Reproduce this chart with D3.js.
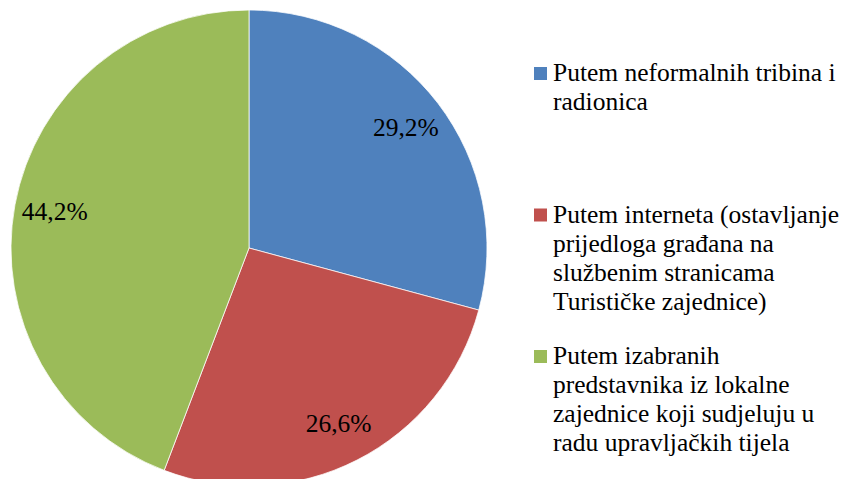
<!DOCTYPE html>
<html>
<head>
<meta charset="utf-8">
<script src="https://cdn.jsdelivr.net/npm/d3@7"></script>
</head>
<body style="margin:0">
<script>
var categories = [
  "Putem neformalnih tribina i radionica",
  "Putem interneta (ostavljanje prijedloga gra\u0111ana na slu\u017Ebenim stranicama Turisti\u010Dke zajednice)",
  "Putem izabranih predstavnika iz lokalne zajednice koji sudjeluju u radu upravlja\u010Dkih tijela"
];
var values = [29.2, 26.6, 44.2];
var labels = ["29,2%", "26,6%", "44,2%"];

var width = 854;
var height = 479;
var radius = 238;
var cx = 249, cy = 248;
var fontSize = 25.5;
var font = "'Times New Roman'";

var color = d3.scaleOrdinal()
  .domain(categories)
  .range(["#4F81BD", "#C0504D", "#9BBB59"]);

var svg = d3.select("body")
  .append("svg")
  .attr("width", width)
  .attr("height", height);

var g = svg.append("g")
  .attr("transform", "translate(" + cx + "," + cy + ")");

var pie = d3.pie()
  .value(function(d) { return d; })
  .sort(null);

var arc = d3.arc()
  .innerRadius(0)
  .outerRadius(radius);

var labelArc = d3.arc()
  .innerRadius(radius * 0.83)
  .outerRadius(radius * 0.83);

var arcs = pie(values);

g.selectAll("path")
  .data(arcs)
  .enter()
  .append("path")
  .attr("d", arc)
  .attr("fill", function(d, i) { return color(categories[i]); })
  .attr("stroke", "#fff")
  .attr("stroke-width", 0.75);

g.selectAll("text.pct")
  .data(arcs)
  .enter()
  .append("text")
  .attr("class", "pct")
  .attr("x", function(d) { return labelArc.centroid(d)[0]; })
  .attr("y", function(d) { return labelArc.centroid(d)[1] + 8; })
  .attr("text-anchor", "middle")
  .attr("font-family", font)
  .attr("font-size", fontSize)
  .text(function(d, i) { return labels[i]; });

// legend
var legendX = 534;
var textX = 553;
var maxW = 298;
var lineH = 29;

var ly = d3.scalePoint()
  .domain(categories)
  .range([81, 364]);

categories.forEach(function(c) {
  var y = ly(c);
  svg.append("rect")
    .attr("x", legendX)
    .attr("y", y - 14)
    .attr("width", 13)
    .attr("height", 13)
    .attr("fill", color(c));

  var words = c.split(" ");
  var line = [];
  var n = 0;
  var t = svg.append("text")
    .attr("x", textX)
    .attr("y", y)
    .attr("font-family", font)
    .attr("font-size", fontSize);
  words.forEach(function(w) {
    line.push(w);
    t.text(line.join(" "));
    if (t.node().getComputedTextLength() > maxW && line.length > 1) {
      line.pop();
      t.text(line.join(" "));
      line = [w];
      n++;
      t = svg.append("text")
        .attr("x", textX)
        .attr("y", y + n * lineH)
        .attr("font-family", font)
        .attr("font-size", fontSize)
        .text(w);
    }
  });
});
</script>
</body>
</html>
